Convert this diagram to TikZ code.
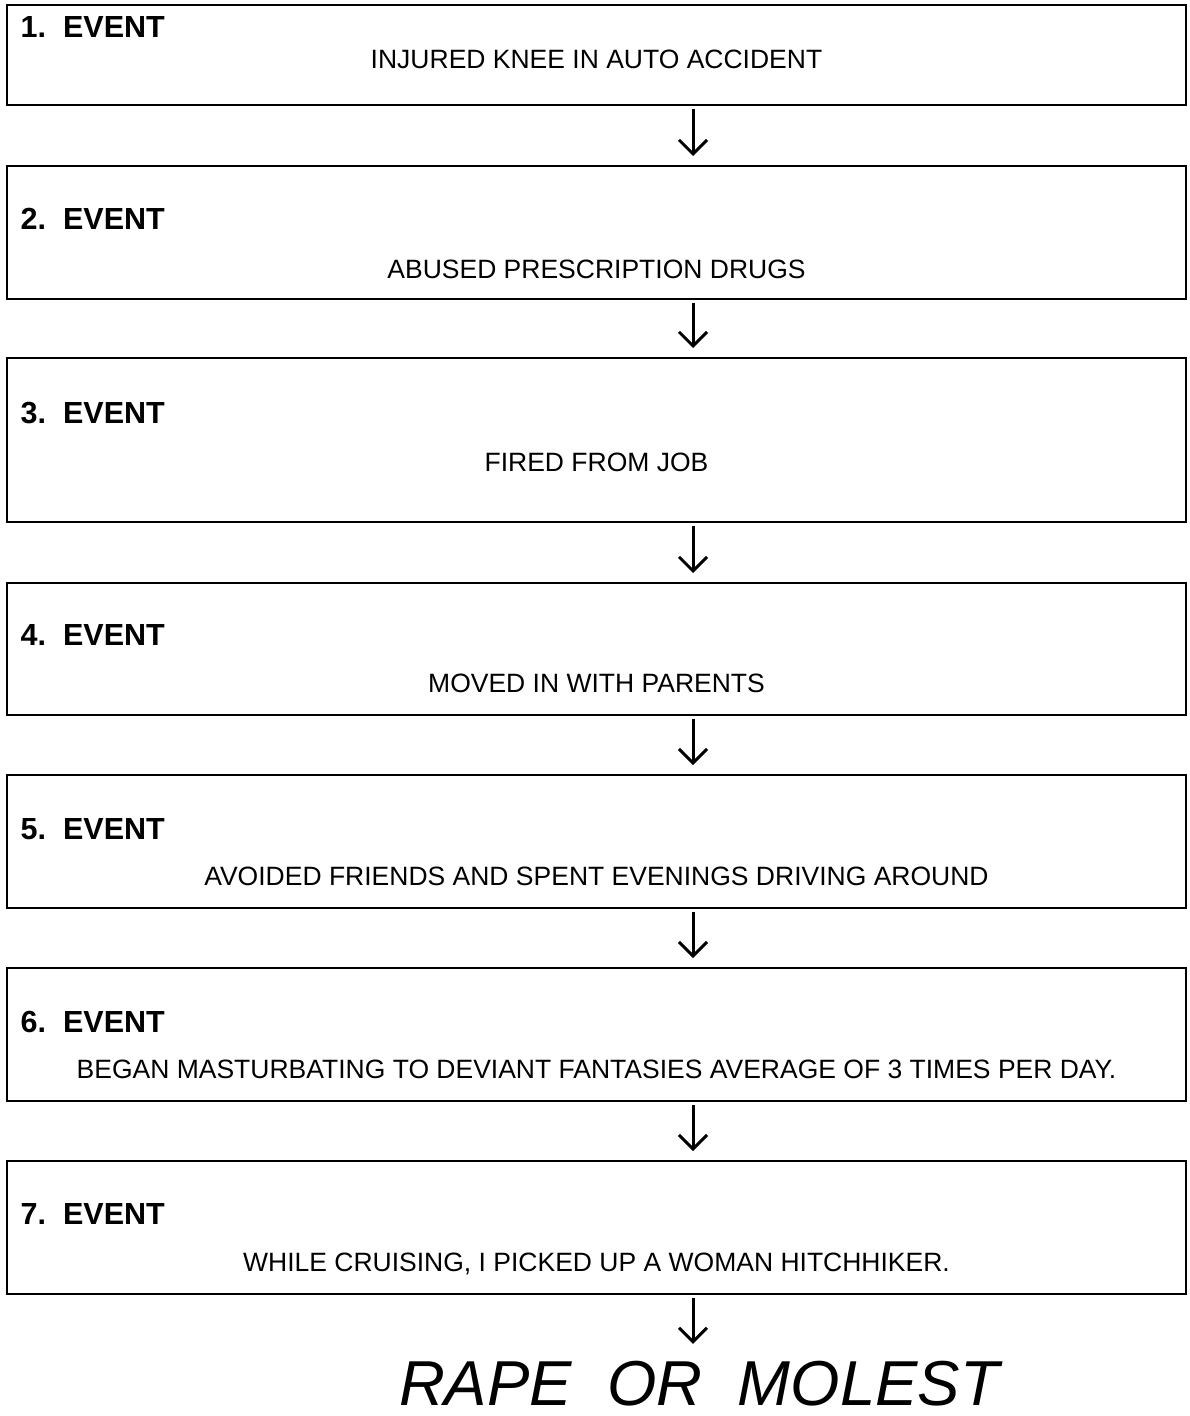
\documentclass[tikz,border=0pt]{standalone}
\usepackage{fontspec}
\setmainfont{Liberation Sans}
\usetikzlibrary{arrows.meta}

\tikzset{
  evbox/.style={draw=black, line width=2.8pt, minimum width=1179pt, inner sep=0pt, outer sep=0pt},
  evlabel/.style={anchor=base west, inner sep=0pt, font=\fontsize{30.5pt}{34pt}\selectfont\bfseries},
  evtext/.style={anchor=base, inner sep=0pt, font=\fontsize{26.5pt}{30pt}\selectfont},
  flow/.style={line width=3pt, -{Straight Barb[length=14pt, width=28pt]}, shorten <=4pt, shorten >=10pt},
  result/.style={anchor=base, inner sep=0pt, font=\fontsize{63.5pt}{70pt}\selectfont\itshape}
}

\begin{document}
\begin{tikzpicture}[x=1pt, y=-1pt]
  \useasboundingbox (0,0) rectangle (1189,1416);
  \fill[white] (0,0) rectangle (1189,1416);

  % column of the arrows
  \coordinate (ax) at (693,0);

  % event boxes
  \node[evbox, minimum height=100pt] (b1) at (596.5,55)    {};
  \node[evbox, minimum height=133pt] (b2) at (596.5,232.5) {};
  \node[evbox, minimum height=164pt] (b3) at (596.5,440)   {};
  \node[evbox, minimum height=132pt] (b4) at (596.5,649)   {};
  \node[evbox, minimum height=133pt] (b5) at (596.5,841.5) {};
  \node[evbox, minimum height=133pt] (b6) at (596.5,1034.5){};
  \node[evbox, minimum height=133pt] (b7) at (596.5,1227.5){};

  % headings
  \node[evlabel] (l1) at (20.5,37)   {1.\ \ EVENT};
  \node[evlabel] (l2) at (20.5,229)  {2.\ \ EVENT};
  \node[evlabel] (l3) at (20.5,423)  {3.\ \ EVENT};
  \node[evlabel] (l4) at (20.5,645)  {4.\ \ EVENT};
  \node[evlabel] (l5) at (20.5,839)  {5.\ \ EVENT};
  \node[evlabel] (l6) at (20.5,1032) {6.\ \ EVENT};
  \node[evlabel] (l7) at (20.5,1224) {7.\ \ EVENT};

  % descriptions
  \node[evtext] (t1) at (596.5,68.5)   {INJURED KNEE IN AUTO ACCIDENT};
  \node[evtext] (t2) at (596.5,278.5)  {ABUSED PRESCRIPTION DRUGS};
  \node[evtext] (t3) at (596.5,471.5)  {FIRED FROM JOB};
  \node[evtext] (t4) at (596.5,692.5)  {MOVED IN WITH PARENTS};
  \node[evtext] (t5) at (596.5,885.5)  {AVOIDED FRIENDS AND SPENT EVENINGS DRIVING AROUND};
  \node[evtext] (t6) at (596.5,1078.5) {BEGAN MASTURBATING TO DEVIANT FANTASIES AVERAGE OF 3 TIMES PER DAY.};
  \node[evtext] (t7) at (596.5,1271.5) {WHILE CRUISING, I PICKED UP A WOMAN HITCHHIKER.};

  % outcome
  \node[result] (res) at (699,1405) {RAPE\ \ OR\ \ MOLEST};

  % connectors
  \draw[flow] (b1.south -| ax) -- (b2.north -| ax);
  \draw[flow] (b2.south -| ax) -- (b3.north -| ax);
  \draw[flow] (b3.south -| ax) -- (b4.north -| ax);
  \draw[flow] (b4.south -| ax) -- (b5.north -| ax);
  \draw[flow] (b5.south -| ax) -- (b6.north -| ax);
  \draw[flow] (b6.south -| ax) -- (b7.north -| ax);
  \draw[flow, shorten >=16.5pt] (b7.south -| ax) -- (res.north -| ax);
\end{tikzpicture}
\end{document}
